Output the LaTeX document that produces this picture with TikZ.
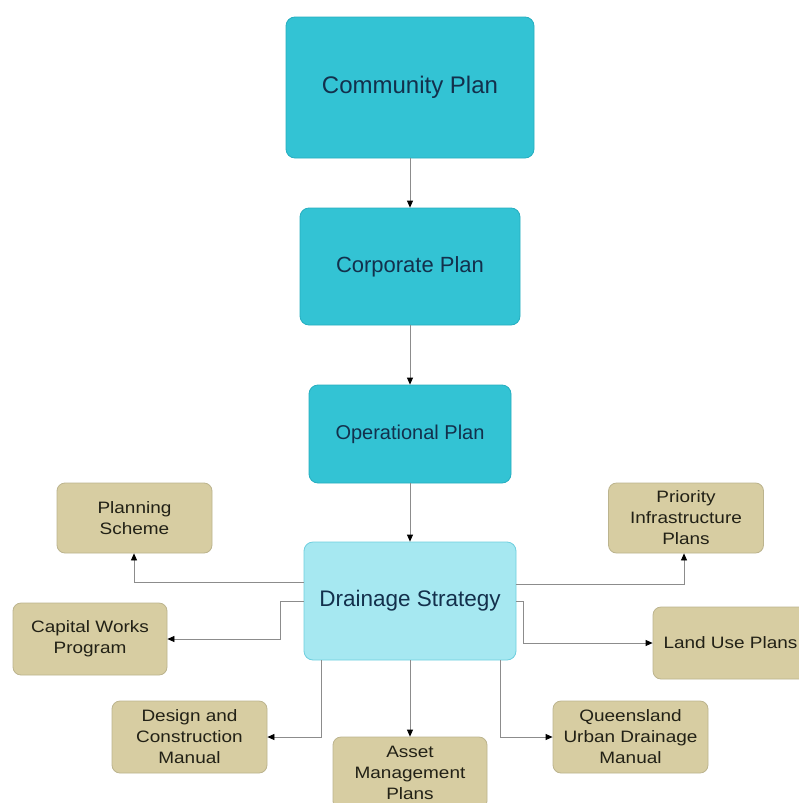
\documentclass[tikz,border=0pt]{standalone}
\usepackage{fontspec}
\setmainfont{Liberation Sans}
\newfontfamily\tanfont[FakeStretch=1.15]{Liberation Sans}
\usetikzlibrary{arrows.meta}
\definecolor{cyanfill}{HTML}{33C3D4}
\definecolor{cyandraw}{HTML}{25AEC0}
\definecolor{lightfill}{HTML}{A6E8F1}
\definecolor{lightdraw}{HTML}{6FCFDF}
\definecolor{tanfill}{HTML}{D7CDA2}
\definecolor{tandraw}{HTML}{BCB48E}
\definecolor{bluetext}{HTML}{13304C}
\definecolor{tantext}{HTML}{222116}
\definecolor{linegrey}{HTML}{8C8C8C}
\tikzset{
  cyanbox/.style={draw=cyandraw, fill=cyanfill, rounded corners=9pt, line width=0.8pt,
    inner sep=0pt, text=bluetext, align=center},
  lightbox/.style={draw=lightdraw, fill=lightfill, rounded corners=9pt, line width=0.8pt,
    inner sep=0pt, text=bluetext, align=center},
  tanbox/.style={draw=tandraw, fill=tanfill, rounded corners=8pt, line width=0.8pt,
    inner sep=0pt, text=tantext, align=center, minimum width=155pt, minimum height=71pt,
    font=\tanfont\fontsize{16.5pt}{21pt}\selectfont},
  arr/.style={draw=linegrey, line width=0.8pt, -{Triangle[length=7pt,width=6pt,color=black]}}
}
\begin{document}
\begin{tikzpicture}[x=1pt,y=-1pt]
\useasboundingbox (0,0) rectangle (798,803);
\fill[white] (0,0) rectangle (798,803);
\node[cyanbox, minimum width=248pt, minimum height=141pt, font=\fontsize{24pt}{28pt}\selectfont] (comm) at (410,87.5) {Community Plan};
\node[cyanbox, minimum width=220pt, minimum height=117pt, font=\fontsize{22pt}{26pt}\selectfont] (corp) at (410,266.5) {Corporate Plan};
\node[cyanbox, minimum width=202pt, minimum height=98pt, font=\fontsize{20pt}{24pt}\selectfont] (oper) at (410,434) {Operational Plan};
\node[lightbox, minimum width=212pt, minimum height=118pt, font=\fontsize{22.5pt}{26pt}\selectfont] (drain) at (410,601) {Drainage Strategy};
\node[tanbox, minimum height=70pt] (plan) at (134.5,518) {Planning\\Scheme};
\node[tanbox, minimum height=70pt] (prio) at (686,518) {Priority\\Infrastructure\\Plans};
\node[tanbox, minimum width=154pt, minimum height=72pt] (cap) at (90,639) {Capital Works\\Program};
\node[tanbox, minimum height=72pt] (land) at (730.5,643) {Land Use Plans};
\node[tanbox, minimum height=72pt] (design) at (189.5,737) {Design and\\Construction\\Manual};
\node[tanbox, minimum width=154pt, minimum height=72pt] (asset) at (410,773) {Asset\\Management\\Plans};
\node[tanbox, minimum height=72pt] (qld) at (630.5,737) {Queensland\\Urban Drainage\\Manual};
\draw[arr] (comm) -- (corp);
\draw[arr] (corp) -- (oper);
\draw[arr] (oper) -- (drain);
\draw[arr] ([yshift=19pt]drain.west) -| ([xshift=-0.5pt]plan.south);
\draw[arr] (drain.west) -- ++(-23,0) |- (cap.east);
\draw[arr] ([yshift=17pt]drain.east) -| ([xshift=-2pt]prio.south);
\draw[arr] (drain.east) -- ++(7,0) |- (land.west);
\draw[arr] ([xshift=-89pt]drain.south) |- (design.east);
\draw[arr] (drain.south) -- (asset.north);
\draw[arr] ([xshift=90pt]drain.south) |- (qld.west);
\end{tikzpicture}
\end{document}
